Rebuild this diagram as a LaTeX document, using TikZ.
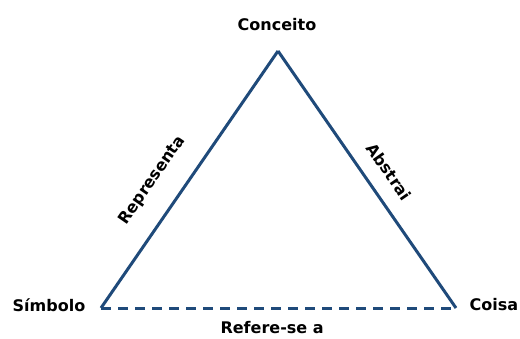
\documentclass[tikz,border=0pt]{standalone}
\usepackage{fontspec}
\setmainfont{DejaVu Sans}
\definecolor{edgeblue}{HTML}{1F4A7A}
\tikzset{
  lbl/.style={font=\fontsize{16}{19}\selectfont\bfseries, text=black, inner sep=0pt},
  side/.style={edgeblue, line width=3pt}
}
\begin{document}
\begin{tikzpicture}[x=1pt,y=1pt]
    \useasboundingbox (0,0) rectangle (520,338);
    \coordinate (top) at (278,287);
    \coordinate (sym) at (101,30);
    \coordinate (thing) at (456,30);
    \node [lbl] (conceito) at (277,313) {Conceito};
    \node [lbl] (simbolo) at (49,33) {Símbolo};
    \node [lbl] (coisa) at (494,33) {Coisa};
    \draw [side] (sym) -- node [lbl,sloped,above=21pt,pos=0.43] (representa) {Representa} (top);
    \draw [side] (top) -- node [lbl,sloped,above=15pt,pos=0.52] (abstrai) {Abstrai} (thing);
    \draw [side,dash pattern=on 10pt off 7pt] (sym) -- node [lbl,below=12pt,pos=0.482] (refere) {Refere-se a} (thing);
\end{tikzpicture}
\end{document}
